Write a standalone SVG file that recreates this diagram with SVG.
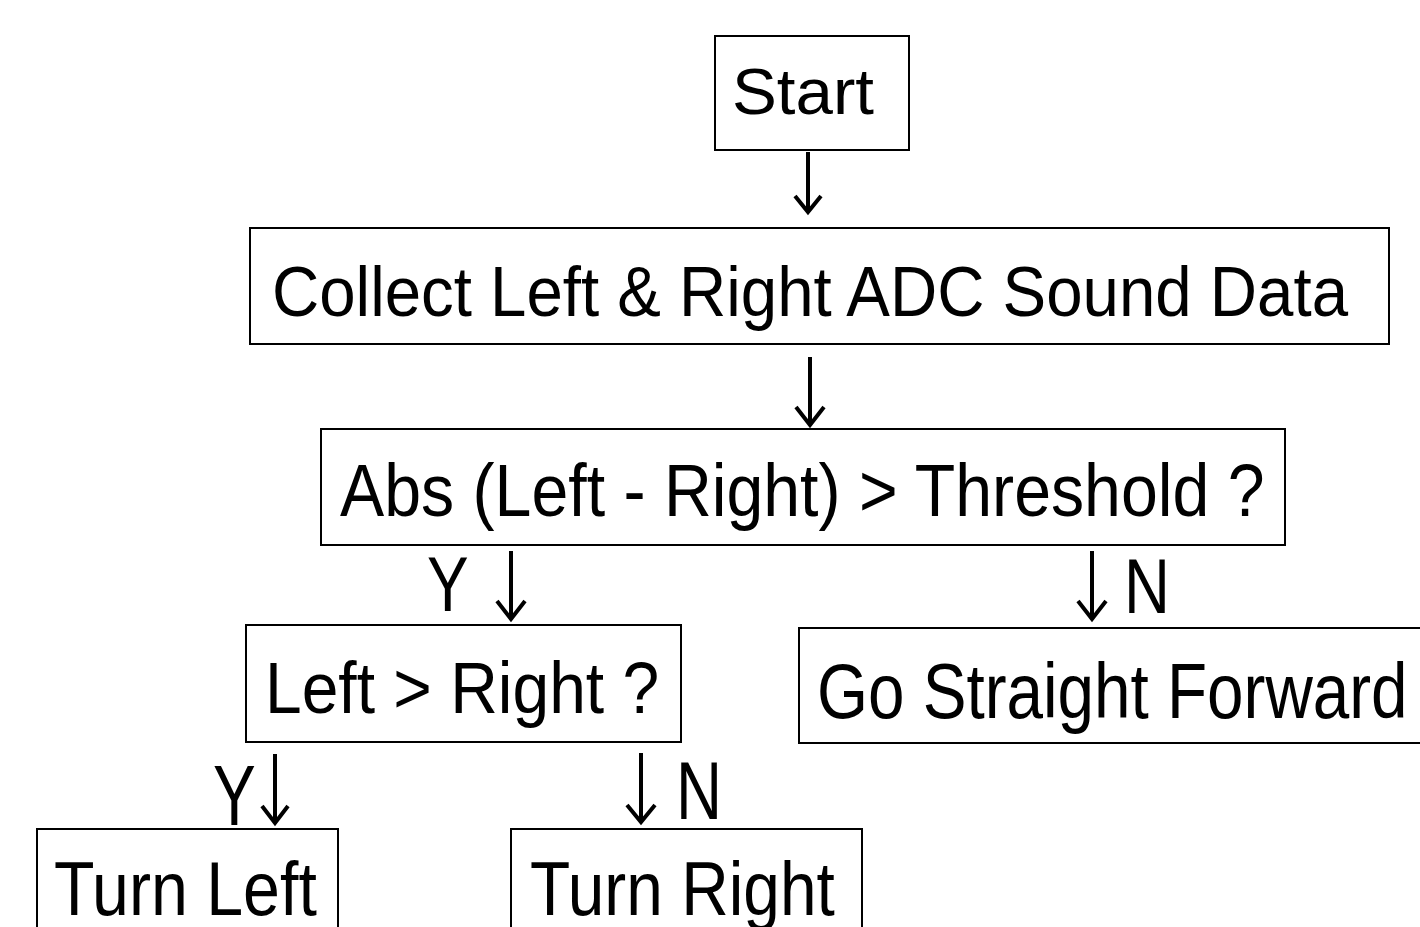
<svg xmlns="http://www.w3.org/2000/svg" width="1420" height="927" viewBox="0 0 1420 927">
<style>
.box{fill:#fff;stroke:#000;stroke-width:2}
.t{font-family:"Liberation Sans Narrow","Liberation Sans",Arial,sans-serif;fill:#000}
.sh{stroke:#000;stroke-width:4;fill:none}
.hd{stroke:#000;stroke-width:4;fill:none;stroke-linejoin:miter;stroke-miterlimit:10}
</style>
<rect width="1420" height="927" fill="#fff"/>
<g id="start">
<rect class="box" x="715" y="36" width="194" height="114"/>
<text class="t" transform="translate(732,114)" font-size="65" textLength="142" lengthAdjust="spacingAndGlyphs">Start</text>
</g>
<g id="collect">
<rect class="box" x="250" y="228" width="1139" height="116"/>
<text class="t" transform="translate(272,316) scale(0.926,1)" font-size="70" textLength="1162" lengthAdjust="spacingAndGlyphs">Collect Left &amp; Right ADC Sound Data</text>
</g>
<g id="threshold">
<rect class="box" x="321" y="429" width="964" height="116"/>
<text class="t" transform="translate(340,516) scale(0.889,1)" font-size="74" textLength="1040" lengthAdjust="spacingAndGlyphs">Abs (Left - Right) &gt; Threshold ?</text>
</g>
<g id="compare">
<rect class="box" x="246" y="625" width="435" height="117"/>
<text class="t" transform="translate(265,713) scale(0.902,1)" font-size="72" textLength="437" lengthAdjust="spacingAndGlyphs">Left &gt; Right ?</text>
</g>
<g id="straight">
<rect class="box" x="799" y="628" width="640" height="115"/>
<text class="t" transform="translate(817,718) scale(0.833,1)" font-size="78" textLength="709" lengthAdjust="spacingAndGlyphs">Go Straight Forward</text>
</g>
<g id="turnleft">
<rect class="box" x="37" y="829" width="301" height="120"/>
<text class="t" transform="translate(54,915) scale(0.845,1)" font-size="76" textLength="311" lengthAdjust="spacingAndGlyphs">Turn Left</text>
</g>
<g id="turnright">
<rect class="box" x="511" y="829" width="351" height="120"/>
<text class="t" transform="translate(530,915) scale(0.842,1)" font-size="76" textLength="362" lengthAdjust="spacingAndGlyphs">Turn Right</text>
</g>
<g id="connectors">
<line class="sh" x1="808" y1="152" x2="808" y2="211"/>
<polyline class="hd" points="795,196 808,212 821,196"/>
<line class="sh" x1="810" y1="357" x2="810" y2="423"/>
<polyline class="hd" points="796,407 810,425 824,407"/>
<line class="sh" x1="511" y1="551" x2="511" y2="617"/>
<polyline class="hd" points="497,601 511,619 525,601"/>
<line class="sh" x1="1092" y1="551" x2="1092" y2="617"/>
<polyline class="hd" points="1078,601 1092,619 1106,601"/>
<line class="sh" x1="275" y1="754" x2="275" y2="821"/>
<polyline class="hd" points="262,806 275,823 288,806"/>
<line class="sh" x1="641" y1="753" x2="641" y2="820"/>
<polyline class="hd" points="627,805 641,822 655,805"/>
</g>
<g id="labels">
<text class="t" transform="translate(427,611) scale(0.8,1)" font-size="78" textLength="52" lengthAdjust="spacingAndGlyphs">Y</text>
<text class="t" transform="translate(1124,613) scale(0.82,1)" font-size="78" textLength="56" lengthAdjust="spacingAndGlyphs">N</text>
<text class="t" transform="translate(213,825) scale(0.75,1)" font-size="86" textLength="57" lengthAdjust="spacingAndGlyphs">Y</text>
<text class="t" transform="translate(676,819) scale(0.78,1)" font-size="82" textLength="59" lengthAdjust="spacingAndGlyphs">N</text>
</g>
</svg>
